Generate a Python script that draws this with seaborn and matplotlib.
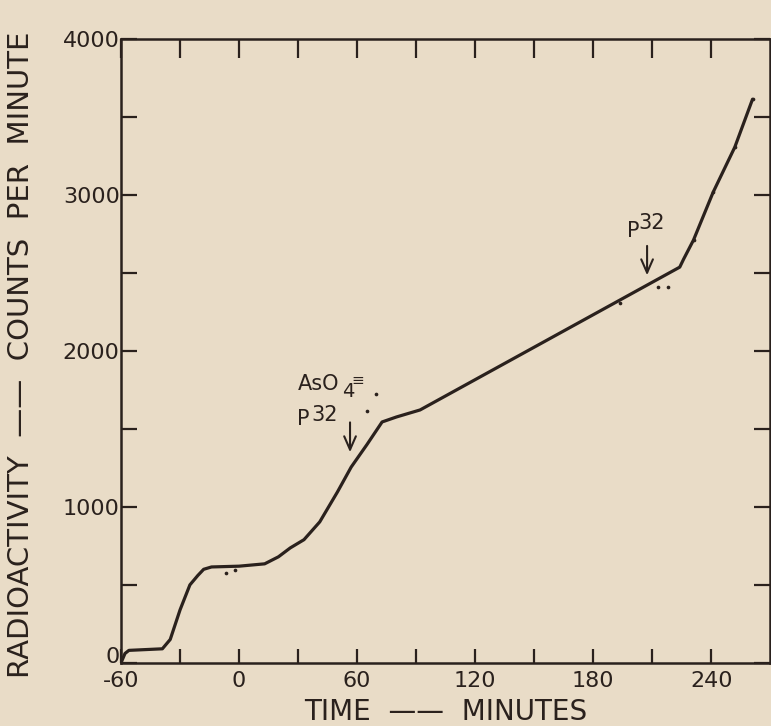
import numpy as np
import pandas as pd
import seaborn as sns
import matplotlib.pyplot as plt
import matplotlib.transforms as mtransforms

# hand-drawn curve (minutes, counts/min)
curve_time = [-60, -58, -56, -39, -35, -30, -25, -21, -18, -14, 0, 13, 20, 26, 33, 41,
              50, 57, 65, 72.7, 80, 92, 224, 226, 231, 241, 252, 261]
curve_counts = [0, 60, 80, 90, 150, 340, 500, 560, 600, 615, 620, 635, 680, 737, 790, 904,
                1096, 1256, 1400, 1545, 1577, 1622, 2538, 2590, 2712, 3019, 3308, 3615]

# individual measurements that sit off / on the line
dot_time = [-6.6, -2, 65, 69.6, 193.7, 213, 218, 231, 241, 252, 261]
dot_counts = [577, 596, 1615, 1724, 2308, 2410, 2410, 2712, 3019, 3308, 3615]

x_ticks = [-60, 0, 60, 120, 180, 240]
y_ticks = [0, 1000, 2000, 3000, 4000]

bg = '#e9dcc7'
ink = '#2a211d'

sns.set_theme(style='ticks')
plt.rcParams['font.family'] = ['DejaVu Sans']
plt.rcParams['text.color'] = ink
plt.rcParams['axes.labelcolor'] = ink
plt.rcParams['xtick.color'] = ink
plt.rcParams['ytick.color'] = ink

curve = pd.DataFrame({'time': curve_time, 'counts': curve_counts})
dots = pd.DataFrame({'time': dot_time, 'counts': dot_counts})

fig = plt.figure(figsize=(7.71, 7.26), dpi=100, facecolor=bg)
ax = fig.add_axes([0.157, 0.087, 0.842, 0.859])
ax.set_facecolor(bg)

sns.lineplot(data=curve, x='time', y='counts', sort=False, color=ink, lw=2.3, ax=ax)
sns.scatterplot(data=dots, x='time', y='counts', color=ink, s=7, linewidth=0, ax=ax)

ax.set_xlim(-60, 270)
ax.set_ylim(0, 4000)

for s in ax.spines.values():
    s.set_color(ink)
    s.set_linewidth(1.8)

# major (labelled) and minor ticks, all pointing inward
ax.set_xticks(x_ticks)
ax.set_xticklabels([str(v) for v in x_ticks])
ax.set_xticks(np.arange(-30, 241, 30), minor=True)
ax.set_yticks(y_ticks)
ax.set_yticklabels([str(v) for v in y_ticks])
ax.set_yticks(np.arange(500, 3501, 500), minor=True)
ax.tick_params(which='both', direction='in', width=1.6, labelsize=16)
ax.tick_params(axis='x', which='both', bottom=True, top=True, length=10, pad=6)
ax.tick_params(axis='y', which='both', left=True, right=True, length=11.5, pad=1)
for t in ax.xaxis.get_ticklines(minor=True)[1::2] + ax.xaxis.get_ticklines()[1::2]:
    t.set_markersize(14)

# nudge the "0" on the y axis up, as in the original
lab0 = ax.get_yticklabels()[0]
lab0.set_transform(lab0.get_transform() + mtransforms.ScaledTranslation(0, 6 / 72, fig.dpi_scale_trans))

ax.set_xlabel('TIME  ——  MINUTES', fontsize=20)
ax.set_ylabel('RADIOACTIVITY  ——  COUNTS  PER  MINUTE', fontsize=21)
ax.xaxis.set_label_coords(0.5, -0.056)
ax.yaxis.set_label_coords(-0.133, 0.494)

# additions
ax.text(30, 1750, 'AsO', fontsize=15, ha='left', va='baseline')
ax.text(52.5, 1705, '4', fontsize=14, ha='left', va='baseline')
ax.text(60.5, 1814, '≡', fontsize=11, ha='center', va='center')
ax.text(29.5, 1526, 'P', fontsize=15, ha='left', va='baseline')
ax.text(36.6, 1551, '32', fontsize=15, ha='left', va='baseline')
ax.annotate('', xy=(56.4, 1333), xytext=(56.4, 1560),
            arrowprops=dict(arrowstyle='->,head_length=0.8,head_width=0.35', color=ink, lw=1.5))
ax.text(197.2, 2731, 'P', fontsize=15, ha='left', va='baseline')
ax.text(203.2, 2782, '32', fontsize=15, ha='left', va='baseline')
ax.annotate('', xy=(207.4, 2468), xytext=(207.4, 2692),
            arrowprops=dict(arrowstyle='->,head_length=0.8,head_width=0.35', color=ink, lw=1.5))

fig.savefig('out.png', dpi=100, facecolor=bg)
